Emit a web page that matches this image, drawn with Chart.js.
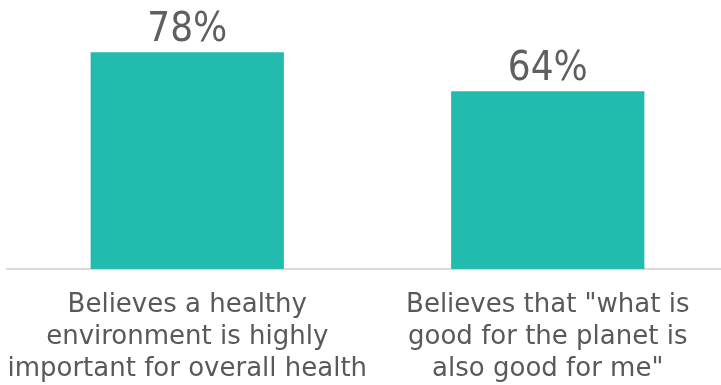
<!DOCTYPE html>
<html><head><meta charset="utf-8">
<script src="https://cdn.jsdelivr.net/npm/chart.js@4/dist/chart.umd.min.js"></script>
<style>html,body{margin:0;padding:0;background:#fff;overflow:hidden;width:721px;height:385px}canvas{display:block}</style>
</head><body>
<canvas id="c" width="728" height="385"></canvas>
<script>
const categories = [
  ["Believes a healthy", "environment is highly", "important for overall health"],
  ["Believes that \"what is", "good for the planet is", "also good for me\""]
];
const values = [78, 64];
const valueLabels = ["78%", "64%"];

const textColor = '#595959';
const fontFam = '"DejaVu Sans", sans-serif';
const valueFont = '40px "Liberation Sans Narrow", "DejaVu Sans Condensed", sans-serif';

const valuePlugin = {
  id: 'vals',
  afterDatasetsDraw(chart) {
    const ctx = chart.ctx;
    const meta = chart.getDatasetMeta(0);
    ctx.save();
    ctx.fillStyle = '#5f5f5f';
    ctx.font = valueFont;
    ctx.textAlign = 'center';
    ctx.textBaseline = 'alphabetic';
    meta.data.forEach((bar, i) => {
      ctx.fillText(valueLabels[i], bar.x, bar.y - 11);
    });
    ctx.restore();
  }
};

new Chart(document.getElementById('c'), {
  type: 'bar',
  data: {
    labels: categories,
    datasets: [{
      data: values,
      backgroundColor: '#22BBAD',
      borderWidth: 0,
      categoryPercentage: 1,
      barPercentage: 0.536
    }]
  },
  options: {
    responsive: false,
    animation: false,
    events: [],
    layout: { padding: { left: 7, right: 0, top: 0, bottom: 0 } },
    plugins: { legend: { display: false }, tooltip: { enabled: false } },
    scales: {
      y: { display: false, min: 0, max: 96.8 },
      x: {
        grid: { display: false, drawTicks: false },
        border: { display: true, color: '#d9d9d9', width: 2 },
        ticks: {
          color: textColor,
          font: { family: fontFam, size: 26, lineHeight: 1.24 },
          padding: 20,
          maxRotation: 0,
          autoSkip: false
        },
        afterFit(scale) {
          scale.height = 116;
          scale.paddingLeft = 0;
          scale.paddingRight = 0;
        }
      }
    }
  },
  plugins: [valuePlugin]
});
</script>
</body></html>
